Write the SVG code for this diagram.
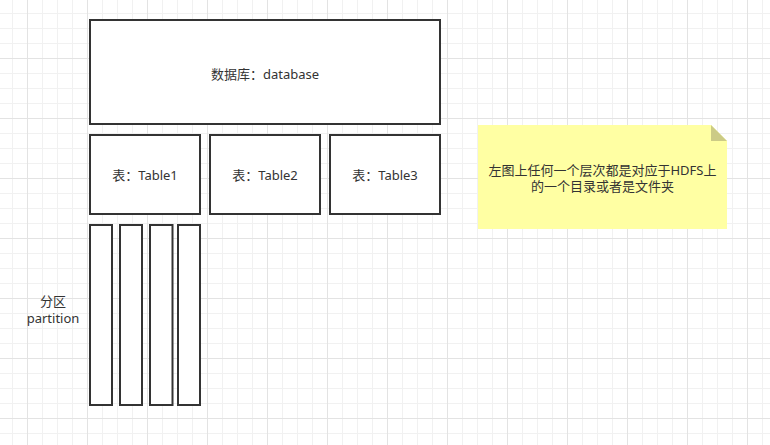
<svg xmlns="http://www.w3.org/2000/svg" width="770" height="445" viewBox="0 0 770 445">
<style>
.box{fill:#ffffff;stroke:#333333;stroke-width:2}
.lbl{font-family:"Noto Sans","Noto Sans CJK SC",sans-serif;font-size:13px;fill:#333333;text-anchor:middle}
</style>
<defs>
<pattern id="minor" patternUnits="userSpaceOnUse" x="12" y="13" width="15" height="15">
<path d="M0 0.5H15M0.5 0V15" stroke="#f1f1f1" stroke-width="1" fill="none"/>
</pattern>
<pattern id="major" patternUnits="userSpaceOnUse" x="27" y="58" width="60" height="60">
<path d="M0 0.5H60M0.5 0V60" stroke="#e3e3e3" stroke-width="1" fill="none"/>
</pattern>
</defs>
<rect width="770" height="445" fill="#ffffff"/>
<rect width="770" height="445" fill="url(#minor)"/>
<rect width="770" height="445" fill="url(#major)"/>

<g id="database">
<rect class="box" x="90" y="20" width="350" height="104"/>
<text class="lbl" x="265" y="78.5">数据库：database</text>
</g>
<g id="table1">
<rect class="box" x="90" y="135" width="110" height="79"/>
<text class="lbl" x="145" y="179.5">表：Table1</text>
</g>
<g id="table2">
<rect class="box" x="210" y="135" width="110" height="79"/>
<text class="lbl" x="265" y="179.5">表：Table2</text>
</g>
<g id="table3">
<rect class="box" x="330" y="135" width="110" height="79"/>
<text class="lbl" x="385" y="179.5">表：Table3</text>
</g>
<g id="partition1"><rect class="box" x="90" y="225" width="22" height="180"/></g>
<g id="partition2"><rect class="box" x="120" y="225" width="22" height="180"/></g>
<g id="partition3"><rect class="box" x="150" y="225" width="22.5" height="180"/></g>
<g id="partition4"><rect class="box" x="178" y="225" width="22" height="180"/></g>
<g id="partition-label">
<text class="lbl" x="53" y="306">分区</text>
<text class="lbl" x="53" y="323">partition</text>
</g>
<g id="note">
<polygon points="478,125 711,125 727,141 727,229 478,229" fill="#ffffa3"/>
<polygon points="711,125 711,141 727,141" fill="#cccb86"/>
<text class="lbl" x="602.5" y="175">左图上任何一个层次都是对应于HDFS上</text>
<text class="lbl" x="602.5" y="190.5">的一个目录或者是文件夹</text>
</g>
<g id="connectors"></g>
</svg>
